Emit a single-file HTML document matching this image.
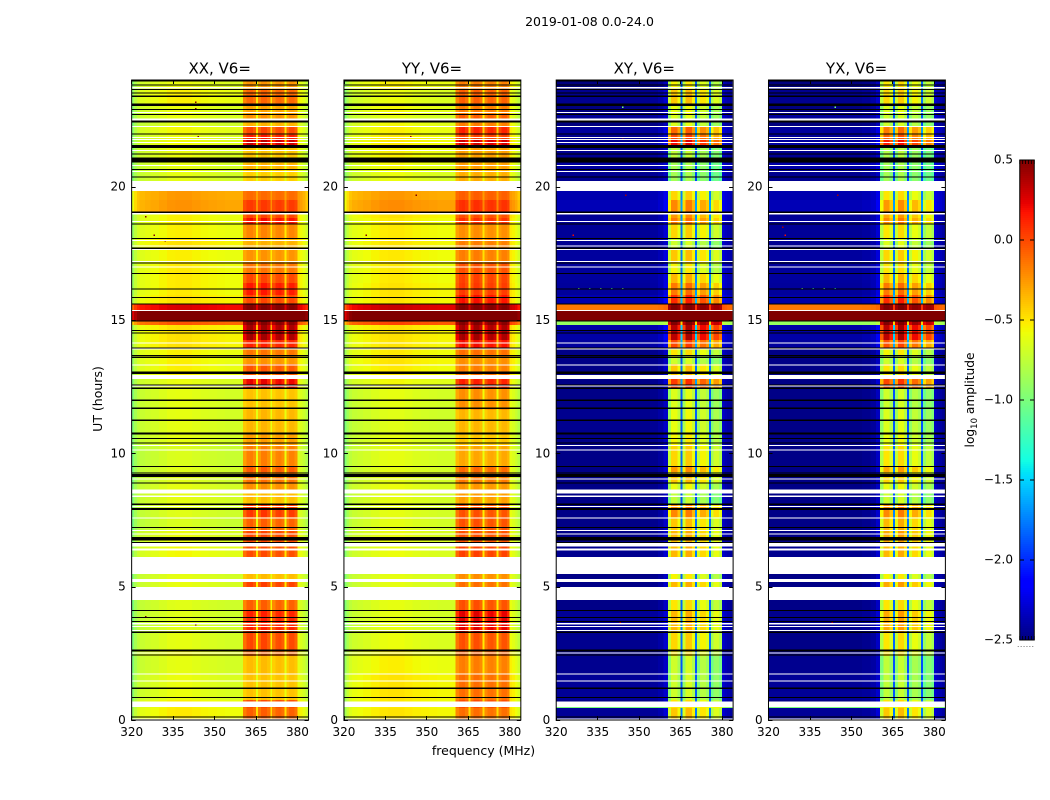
<!DOCTYPE html>
<html lang="en">
<head>
<meta charset="utf-8">
<title>2019-01-08 0.0-24.0</title>
<style>
html,body{margin:0;padding:0;background:#fff;width:1050px;height:800px;overflow:hidden}
svg{display:block}
text{font-family:"DejaVu Sans","Liberation Sans",sans-serif;fill:#000}
</style>
</head>
<body>
<svg id="figure" xmlns="http://www.w3.org/2000/svg" width="1050" height="800" viewBox="0 0 1050 800">
  <rect x="0" y="0" width="1050" height="800" fill="#fff"/>
  <text x="589.5" y="26" font-size="12.5" text-anchor="middle">2019-01-08 0.0-24.0</text>
  <text x="219.7" y="73.5" font-size="15" text-anchor="middle">XX, V6=</text>
  <text x="432" y="73.5" font-size="15" text-anchor="middle">YY, V6=</text>
  <text x="644.3" y="73.5" font-size="15" text-anchor="middle">XY, V6=</text>
  <text x="856.6" y="73.5" font-size="15" text-anchor="middle">YX, V6=</text>
  <text x="483.5" y="755" font-size="12.5" text-anchor="middle">frequency (MHz)</text>
  <text transform="translate(102,399) rotate(-90)" font-size="12.5" text-anchor="middle">UT (hours)</text>
  <text transform="translate(974,400) rotate(-90)" font-size="12.2" text-anchor="middle">log<tspan dy="3" font-size="8.5">10</tspan><tspan dy="-3"> amplitude</tspan></text>
  <g id="panels"></g>
  <g id="colorbar"></g>
</svg>
<script>
/* ---------- chart data (hours, MHz, log10 amplitude) ---------- */
const xTickLabels = [320, 335, 350, 365, 380];
const yTickLabels = [0, 5, 10, 15, 20];
const colorbarTickLabels = [-2.5, -2.0, -1.5, -1.0, -0.5, 0.0, 0.5];
const polarizations = ['xx', 'yy', 'xy', 'yx'];

const channelEdgesMHz = [320,321,322,323,325,327,330,333,336,339,342,345,348,351,354,357,359,360.5,
  361.7,362.9,364.0,365.2,365.9,367,368.1,369.2,370.3,371,372.1,373.2,374.3,375.4,376.1,377.1,378.1,379.1,380.1,381,382,383,384];

const channelWeightAuto = [0,0,0,0,0,0,0,0,0,0,0,0,0,0,0,0,0,
  .8,.97,1,.88,.2,.82,1,1,.88,.22,.78,.94,.97,.88,.22,.82,.97,.97,.85,.04,0,0,0];
const channelWeightCross = [0,0,0,0,0,0,0,0,0,0,0,0,0,0,.01,.03,.08,
  .85,1,1,.92,.33,.88,1.02,1.02,.93,.33,.85,.95,.95,.9,.33,.8,.88,.88,.82,.03,.01,.01,0];
const channelOffsetAuto = [-.3,-.16,-.08,-.04,-.02,0,.03,.06,.07,.07,.05,.03,.02,.01,0,0,0,
  0,0,0,0,0,0,0,0,0,0,0,0,0,0,0,0,0,0,0,.05,.03,-.02,-.1];
const channelOffsetCross = [0,0,0,0,0,0,0,0,0,0,0,0,0,0,0,0,0,
  0,0,0,0,0,0,0,0,0,0,0,0,0,0,0,0,0,0,0,.1,.08,.05,.03];

const rowTopHours = [24,23.62,23.1,22.69,22.43,22.24,21.94,21.75,21.49,21.08,20.89,20.63,20.21,19.84,19.5,19.05,18.83,18.6,18.08,17.7,17.14,16.76,16.39,15.94,15.6,15.38,14.96,14.81,14.25,13.95,13.65,13.35,13.0,12.79,12.45,11.63,10.76,10.31,9.53,9.3,8.89,8.63,8.1,7.61,7.13,6.64,6.12,5.47,5.29,4.99,4.5,4.13,3.3,2.63,2.4,1.73,.75,.49,.45];

const inBandXX = [-.23,-.08,-.28,-.23,-.33,.02,.17,.33,-.38,-.38,-.33,-.42,-.38,-.1,.06,.02,.2,-.18,-.33,-.23,-.13,.02,.17,.02,.5,.5,.5,.42,.14,-.13,-.23,-.03,-.03,.24,-.38,-.34,-.26,-.16,-.04,-.11,-.21,-.36,.07,-.06,.02,0,0,-.36,.04,0,-.06,.14,.02,-.08,-.36,-.38,0,0,-.06];
const inBandYY = [-.16,-.06,-.16,-.06,-.16,.14,.04,.3,-.26,-.26,-.26,-.31,-.36,-.06,.09,-.01,.09,-.21,-.16,-.16,-.01,.04,.06,.19,.5,.5,.5,.42,.2,-.11,-.21,-.16,-.11,.15,-.21,-.34,-.39,-.29,-.09,-.14,-.24,-.26,-.01,-.01,-.01,.04,0,-.21,-.11,0,-.01,.26,-.01,-.06,-.16,-.11,0,0,-.11];
const inBandXY = [-.55,-.4,-.6,-.65,-.65,-.1,0,.2,-.75,-.85,-.85,-.85,-.8,-.45,-.2,-.25,-.15,-.45,-.7,-.4,-.55,-.35,-.15,.1,.5,.5,.5,.35,0,-.5,-.7,-.4,-.4,.05,-.65,-.6,-.55,-.45,-.25,-.4,-.6,-.75,-.2,-.4,-.35,-.35,-.5,-.55,-.35,-.5,-.5,-.35,-.45,-.5,-.7,-.7,-.5,-.5,-.4];
const inBandYX = [-.5,-.45,-.65,-.7,-.7,-.15,-.05,.15,-.8,-.85,-.85,-.85,-.8,-.5,-.25,-.3,-.2,-.5,-.65,-.45,-.5,-.35,-.15,.1,.5,.5,.5,.35,-.02,-.55,-.7,-.5,-.5,.02,-.7,-.65,-.6,-.5,-.3,-.45,-.6,-.7,-.2,-.35,-.3,-.35,-.5,-.55,-.3,-.5,-.5,-.3,-.5,-.5,-.75,-.75,-.5,-.5,-.4];

const outBandXX = [-.66,-.6,-.66,-.66,-.7,-.63,-.66,-.64,-.66,-.66,-.68,-.68,-.68,-.32,-.3,-.6,-.6,-.6,-.55,-.6,-.58,-.58,-.58,-.55,.2,.55,-.1,-.55,-.55,-.6,-.6,-.6,-.6,-.66,-.68,-.68,-.68,-.72,-.7,-.7,-.68,-.68,-.7,-.72,-.66,-.63,-.68,-.68,-.67,-.68,-.7,-.7,-.68,-.63,-.68,-.66,-.6,-.6,-.58];
const outBandYY = [-.6,-.66,-.63,-.68,-.63,-.6,-.58,-.58,-.6,-.58,-.63,-.66,-.68,-.32,-.28,-.55,-.58,-.58,-.56,-.58,-.58,-.58,-.56,-.56,.25,.55,-.05,-.55,-.56,-.58,-.56,-.58,-.58,-.63,-.68,-.7,-.68,-.68,-.68,-.68,-.66,-.68,-.68,-.68,-.66,-.66,-.68,-.68,-.68,-.68,-.68,-.68,-.66,-.6,-.6,-.56,-.58,-.58,-.56];
const outBandXY = [-2.5,-2.46,-2.5,-2.44,-2.5,-2.42,-2.46,-2.44,-2.46,-2.5,-2.42,-2.46,-2.46,-2.38,-2.36,-2.44,-2.44,-2.44,-2.45,-2.42,-2.43,-2.42,-2.43,-2.38,-.15,.5,-.9,-2.4,-2.42,-2.48,-2.48,-2.48,-2.48,-2.48,-2.48,-2.46,-2.48,-2.48,-2.48,-2.48,-2.48,-2.48,-2.48,-2.48,-2.48,-2.46,-2.48,-2.48,-2.48,-2.48,-2.48,-2.44,-2.46,-2.48,-2.46,-2.44,-2.48,-1,-2.44];
const outBandYX = [-2.5,-2.46,-2.5,-2.43,-2.5,-2.42,-2.44,-2.42,-2.46,-2.5,-2.4,-2.46,-2.46,-2.38,-2.36,-2.44,-2.44,-2.44,-2.45,-2.42,-2.43,-2.42,-2.43,-2.4,-.15,.5,-.9,-2.4,-2.42,-2.48,-2.48,-2.48,-2.48,-2.48,-2.48,-2.48,-2.48,-2.48,-2.48,-2.48,-2.48,-2.48,-2.48,-2.48,-2.48,-2.46,-2.48,-2.48,-2.48,-2.48,-2.48,-2.46,-2.48,-2.48,-2.46,-2.44,-2.48,-1,-2.44];

const whiteFlagHigh = [23.74,22.80,22.56,22.28,22.0,21.87,21.79,21.68,21.38,20.81,20.59,20.21,19.03,18.72,18.0,17.79,17.66,17.22,17.0,15.38,14.16,13.94,13.34,12.94,12.54,10.31,10.15,9.06,8.64,8.41,8.03,7.59,7.13,7.0,6.63,6.44,6.12,5.28,4.99,3.63,3.53,3.38,2.54,1.75,1.49,.69,.05];
const whiteFlagLow  = [23.68,22.76,22.48,22.24,21.96,21.83,21.75,21.64,21.34,20.77,20.55,19.84,18.95,18.68,17.96,17.75,17.62,17.18,16.96,15.34,14.12,13.90,13.30,12.78,12.50,10.27,10.11,9.02,8.5,8.37,7.99,7.55,7.09,6.96,6.5,6.35,5.47,5.18,4.5,3.59,3.49,3.34,2.5,1.71,1.45,.49,.01];

const blackFlagCenter = [23.96,23.81,23.64,23.52,23.39,23.07,22.89,22.71,22.44,21.98,21.51,21.22,21.0,20.65,20.36,19.04,18.6,18.06,17.69,17.13,16.75,16.17,15.85,15.6,14.97,14.6,14.52,13.95,13.66,13.6,13.02,12.56,12.44,11.99,11.69,11.24,10.74,10.56,10.38,9.5,9.27,9.17,8.88,8.09,7.91,7.22,6.79,6.66,4.11,3.84,3.7,3.29,2.61,2.43,1.19,.85,.12];
const blackFlagSpan   = [.04,.04,.04,.04,.04,.08,.04,.04,.08,.04,.11,.04,.18,.04,.04,.04,.04,.04,.04,.04,.04,.04,.04,.04,.04,.04,.04,.04,.04,.04,.1,.04,.04,.04,.04,.04,.08,.04,.04,.04,.04,.11,.04,.04,.08,.04,.13,.04,.04,.04,.04,.04,.08,.04,.04,.04,.04];

const speckPanel = [0,0,0,0,0,0,0,0,1,1,1,2,2,2,2,2,2,2,2,2,2,3,3,3,3,3,3,3,3,3];
const speckMHz   = [343,343,344,325,328,332,325,343,344,328,346,344,344,345,326,328,332,336,340,344,343,344,345,325,326,332,336,340,344,343];
const speckHours = [22.95,23.2,21.9,18.9,18.2,18,3.9,3.6,21.9,18.2,19.7,23,21.8,19.7,18.2,16.2,16.2,16.2,16.2,16.2,3.7,23,19.7,18.5,18.2,16.2,16.2,16.2,16.2,3.7];
const speckLevel = [.5,.5,.5,.5,.5,.5,.5,.5,.4,.5,.5,-1,.4,.4,.2,-1,-1.2,-1,-1.2,-1,.4,-1,.4,.4,.2,-1,-1.2,-1,-1.2,.4];

/* ---------- lookups ---------- */
const inBandByPanel = [inBandXX, inBandYY, inBandXY, inBandYX];
const outBandByPanel = [outBandXX, outBandYY, outBandXY, outBandYX];

/* ---------- axis functions ---------- */
const AX_TOP = 80, AX_BOTTOM = 720, AX_WIDTH = 176.9;
function panelLeft(p) { return 131.25 + p * 212.28; }
function xScale(p, mhz) { return panelLeft(p) + (mhz - 320) / 64 * AX_WIDTH; }
function yScale(h) { return AX_BOTTOM - h / 24 * (AX_BOTTOM - AX_TOP); }
function cbScale(v) { return 640 - (v + 2.5) / 3 * 480; }

function ramp(x, a, b) { return Math.max(0, Math.min(1, (x - a) / (b - a))); }
function jet(v) {
  const f = Math.max(0, Math.min(1, (v + 2.5) / 3));
  let r, g, b;
  r = f < .35 ? 0 : f < .66 ? ramp(f, .35, .66) : f < .89 ? 1 : 1 - .5 * ramp(f, .89, 1);
  g = f < .125 ? 0 : f < .375 ? ramp(f, .125, .375) : f < .64 ? 1 : f < .91 ? 1 - ramp(f, .64, .91) : 0;
  b = f < .11 ? .5 + .5 * ramp(f, 0, .11) : f < .34 ? 1 : f < .65 ? 1 - ramp(f, .34, .65) : 0;
  return 'rgb(' + Math.round(r * 255) + ',' + Math.round(g * 255) + ',' + Math.round(b * 255) + ')';
}

const SVGNS = 'http://www.w3.org/2000/svg';
function make(tag, attrs, parent) {
  const node = document.createElementNS(SVGNS, tag);
  for (const k in attrs) node.setAttribute(k, attrs[k]);
  parent.appendChild(node);
  return node;
}

const panelsGroup = document.getElementById('panels');
polarizations.forEach(function (pol, p) {
  const auto = p < 2;
  const weights = auto ? channelWeightAuto : channelWeightCross;
  const offsets = auto ? channelOffsetAuto : channelOffsetCross;
  const inBand = inBandByPanel[p];
  const outBand = outBandByPanel[p];

  const panel = make('g', {}, panelsGroup);
  
  
  const cells = make('g', { 'shape-rendering': 'crispEdges' }, panel);
  
  

  rowTopHours.forEach(function (top, r) {
    const bottom = r + 1 < rowTopHours.length ? rowTopHours[r + 1] : 0;
    for (let c = 0; c + 1 < channelEdgesMHz.length; c++) {
      const value = outBand[r] + offsets[c] + (inBand[r] - outBand[r]) * weights[c];
      const x0 = xScale(p, channelEdgesMHz[c]), x1 = xScale(p, channelEdgesMHz[c + 1]);
      const cell = make('rect', { x: x0, y: yScale(top), width: x1 - x0, height: yScale(bottom) - yScale(top), fill: jet(value) }, cells);
      
      
    }
  });

  speckMHz.forEach(function (mhz, s) {
    if (speckPanel[s] !== p) return;
    const dot = make('rect', { x: xScale(p, mhz), y: yScale(speckHours[s]), width: 1.5, height: 1.5, fill: jet(speckLevel[s]) }, cells);
    
    
  });

  whiteFlagHigh.forEach(function (hi, i) {
    const band = make('rect', { x: panelLeft(p), y: yScale(hi), width: AX_WIDTH, height: Math.max(1, yScale(whiteFlagLow[i]) - yScale(hi)), fill: '#fff' }, cells);
    
    
  });
  blackFlagCenter.forEach(function (ctr, i) {
    const h = blackFlagSpan[i];
    const line = make('rect', { x: panelLeft(p), y: yScale(ctr + h / 2), width: AX_WIDTH, height: Math.max(1, yScale(ctr - h / 2) - yScale(ctr + h / 2)), fill: '#000' }, cells);
    
    
  });

  const frame = make('rect', { x: panelLeft(p) + .4, y: AX_TOP, width: AX_WIDTH, height: AX_BOTTOM - AX_TOP, fill: 'none', stroke: '#000', 'stroke-width': 1 }, panel);
  
  

  xTickLabels.forEach(function (t) {
    const x = Math.round(xScale(p, t)) + .5;
    const tickBottom = make('line', { x1: x, x2: x, y1: AX_BOTTOM, y2: AX_BOTTOM - 4, stroke: '#000' }, panel);
    
    
    const tickTop = make('line', { x1: x, x2: x, y1: AX_TOP, y2: AX_TOP + 4, stroke: '#000' }, panel);
    
    
    const label = make('text', { x: xScale(p, t) + .4, y: 736, 'font-size': 12, 'text-anchor': 'middle' }, panel);
    label.textContent = String(t);
    
    
  });
  yTickLabels.forEach(function (t) {
    const y = Math.round(yScale(t)) + .5;
    const left = panelLeft(p), right = left + AX_WIDTH + .4;
    const tickLeft = make('line', { x1: left, x2: left + 4.4, y1: y, y2: y, stroke: '#000' }, panel);
    
    
    const tickRight = make('line', { x1: right, x2: right - 4, y1: y, y2: y, stroke: '#000' }, panel);
    
    
    const label = make('text', { x: left - 5.5, y: yScale(t) + 4, 'font-size': 12, 'text-anchor': 'end' }, panel);
    label.textContent = String(t);
    
    
  });
});

/* ---------- colorbar ---------- */
const cbGroup = document.getElementById('colorbar');
const cbSteps = 240;
const cbFill = make('g', { 'shape-rendering': 'crispEdges' }, cbGroup);


for (let k = 0; k < cbSteps; k++) {
  const v = -2.5 + 3 * (k + .5) / cbSteps;
  const step = make('rect', { x: 1020, y: cbScale(v) - 1, width: 14, height: 2, fill: jet(v) }, cbFill);
  
  
}
const cbFrame = make('rect', { x: 1019.75, y: 160, width: 14.5, height: 480, fill: 'none', stroke: '#000' }, cbGroup);


colorbarTickLabels.forEach(function (t) {
  const y = cbScale(t);
  const tl = make('line', { x1: 1020, x2: 1024, y1: y, y2: y, stroke: '#000' }, cbGroup);
  
  
  const tr = make('line', { x1: 1034, x2: 1030, y1: y, y2: y, stroke: '#000' }, cbGroup);
  
  
  const label = make('text', { x: 1013, y: y + 3.5, 'font-size': 12, 'text-anchor': 'end' }, cbGroup);
  label.textContent = t.toFixed(1).replace('-', '\u2212');
  
  
});
for (let k = 0; k < 6; k++) {
  const x = 1019.75 + k * 2.9;
  const topTick = make('line', { x1: x, x2: x, y1: 160, y2: 164, stroke: '#000', 'stroke-width': .8 }, cbGroup);
  
  
  const bottomTick = make('line', { x1: x, x2: x, y1: 640, y2: 636, stroke: '#000', 'stroke-width': .8 }, cbGroup);
  
  
  const dot = make('rect', { x: x - 2, y: 646, width: 1, height: 1, fill: '#777' }, cbGroup);
  
  
}
</script>
</body>
</html>
